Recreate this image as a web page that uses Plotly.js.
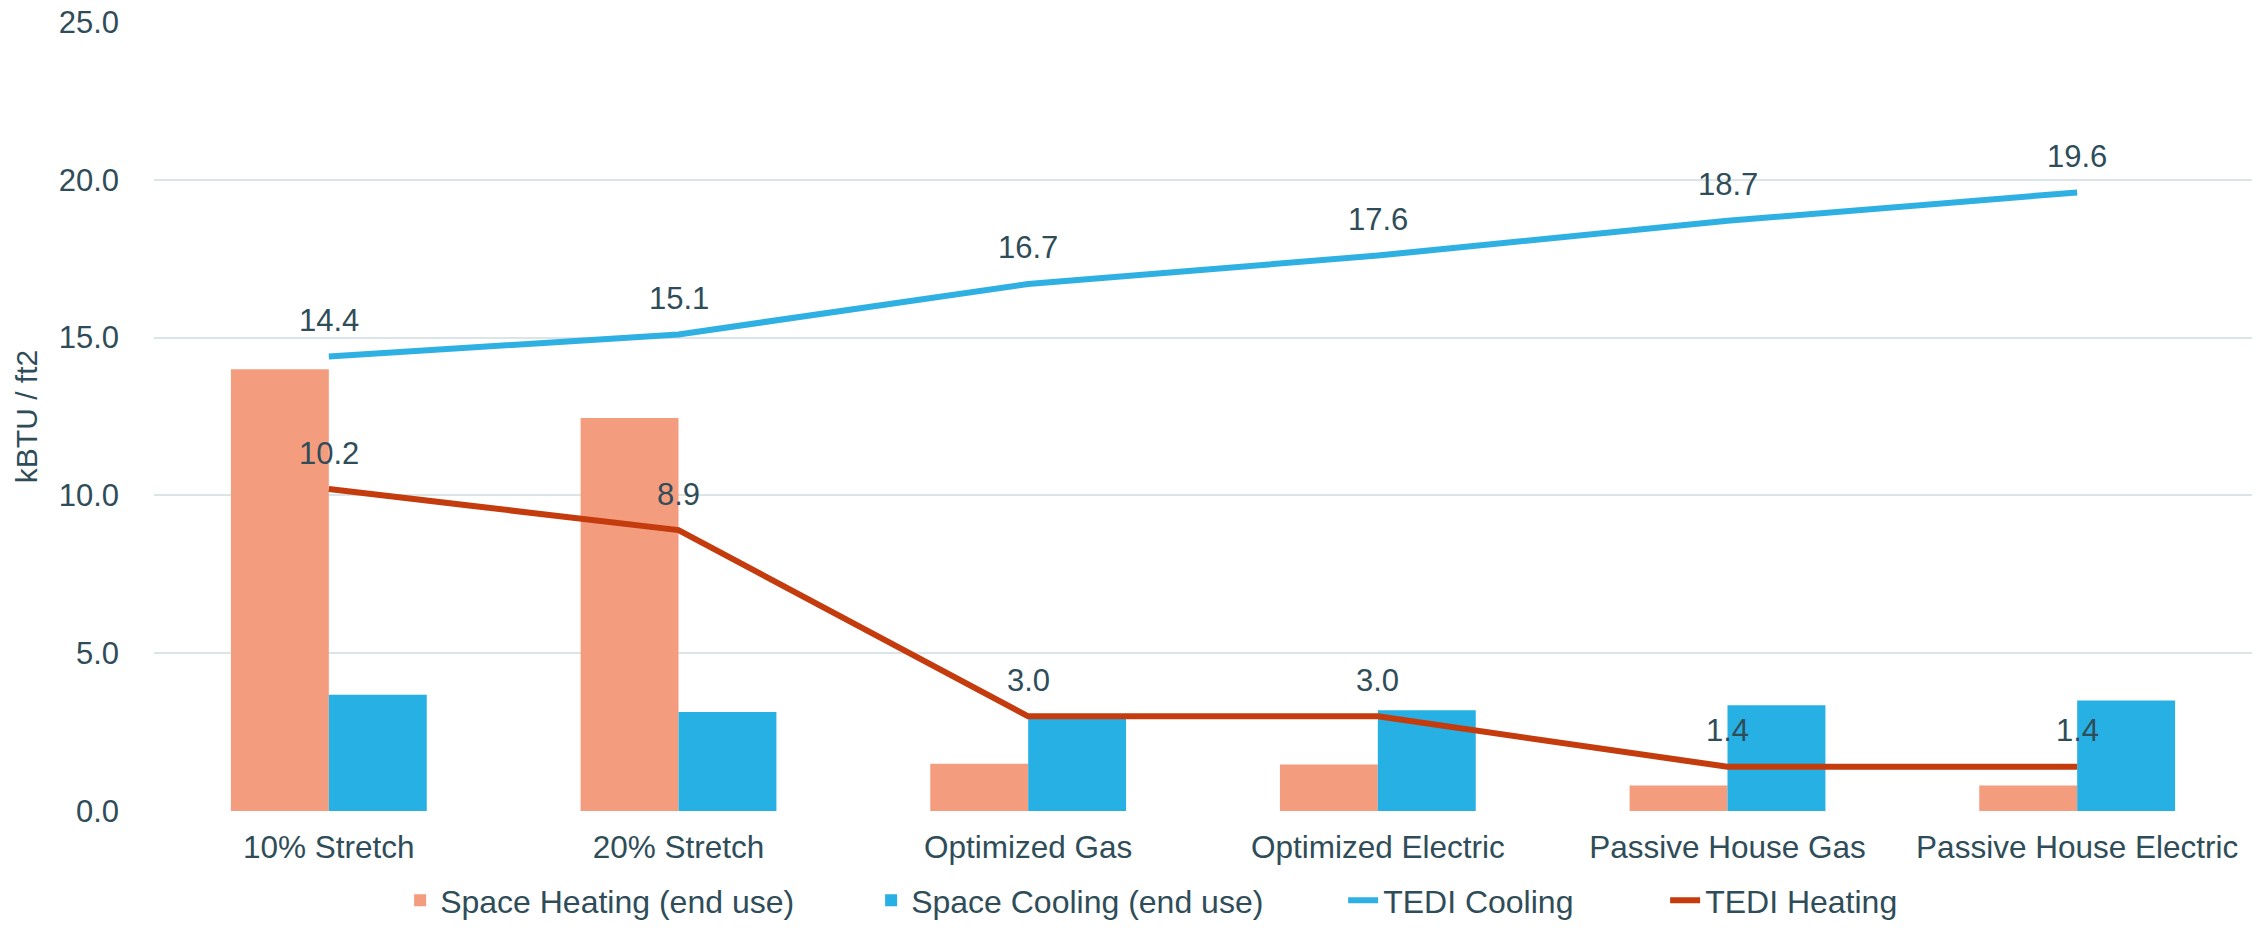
<!DOCTYPE html>
<html>
<head>
<meta charset="utf-8">
<script src="https://cdn.plot.ly/plotly-3.0.1.min.js"></script>
<style>html,body{margin:0;padding:0;background:#fff;}#chart{width:2267px;height:928px;}</style>
</head>
<body>
<div id="chart"></div>
<script>
const categories = ["10% Stretch", "20% Stretch", "Optimized Gas", "Optimized Electric", "Passive House Gas", "Passive House Electric"];
const spaceHeating = [14.0, 12.45, 1.5, 1.47, 0.81, 0.81];
const spaceCooling = [3.68, 3.14, 3.0, 3.19, 3.35, 3.5];
const tediCooling = [14.4, 15.1, 16.7, 17.6, 18.7, 19.6];
const tediHeating = [10.2, 8.9, 3.0, 3.0, 1.4, 1.4];
const yTicks = [0, 5, 10, 15, 20, 25];

const textColor = "#2f4d59";
const fontFamily = "Liberation Sans, Arial, sans-serif";

const traces = [
  {type: "bar", name: "Space Heating (end use)", x: categories, y: spaceHeating,
   marker: {color: "#f49c7e"}, legendwidth: 426},
  {type: "bar", name: "Space Cooling (end use)", x: categories, y: spaceCooling,
   marker: {color: "#27b0e4"}, legendwidth: 427},
  {type: "scatter", mode: "lines", name: "TEDI Cooling", x: categories, y: tediCooling,
   line: {color: "#2eb0e2", width: 6}, legendwidth: 277},
  {type: "scatter", mode: "lines", name: "TEDI Heating", x: categories, y: tediHeating,
   line: {color: "#c43c0e", width: 6}, legendwidth: 200}
];

const annotations = [];
[tediCooling, tediHeating].forEach(series => {
  series.forEach((v, i) => {
    annotations.push({x: categories[i], y: v, xref: "x", yref: "y", text: v.toFixed(1),
      showarrow: false, yanchor: "middle", xanchor: "center", yshift: 36,
      font: {family: fontFamily, size: 31, color: textColor}});
  });
});

const layout = {
  width: 2267, height: 928,
  margin: {l: 154, r: 15, t: 22, b: 117},
  paper_bgcolor: "#ffffff", plot_bgcolor: "#ffffff",
  barmode: "group", bargap: 0.44, bargroupgap: 0,
  font: {family: fontFamily, size: 31, color: textColor},
  xaxis: {type: "category", showgrid: false, zeroline: false, showline: false,
    ticks: "", tickfont: {size: 31.5, color: textColor}, ticklabelstandoff: 14},
  yaxis: {range: [0, 25], tickvals: yTicks, tickformat: ".1f", showgrid: true,
    gridcolor: "#dbe5e8", gridwidth: 2, zeroline: false, showline: false, ticks: "",
    tickfont: {size: 31, color: textColor}, ticklabelstandoff: 34,
    title: {text: "kBTU / ft2", font: {size: 30, color: textColor}, standoff: 12}},
  legend: {orientation: "h", xref: "container", x: 0.1765, xanchor: "left",
    yref: "container", y: -0.008, yanchor: "bottom",
    font: {size: 32, color: textColor}, tracegroupgap: 0,
    bgcolor: "rgba(0,0,0,0)"},
  annotations: annotations,
  hovermode: false,
  showlegend: true
};

Plotly.newPlot("chart", traces, layout, {displayModeBar: false, staticPlot: true});
</script>
</body>
</html>
